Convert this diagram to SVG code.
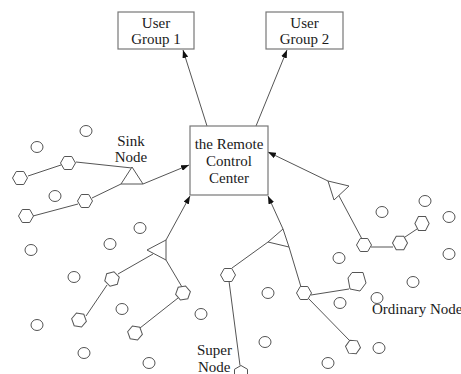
<svg xmlns="http://www.w3.org/2000/svg" xmlns:xlink="http://www.w3.org/1999/xlink" width="461" height="374" viewBox="0 0 461 374">
<style>
.box{fill:#fff;stroke:#777;stroke-width:1.2}
.t{font-family:"Liberation Serif","Times New Roman",serif;font-size:15px;fill:#1a1a1a;text-anchor:middle}
.tl{font-family:"Liberation Serif","Times New Roman",serif;font-size:15px;fill:#1a1a1a}
.ln{stroke:#555;stroke-width:1;fill:none}
.ar{stroke:#555;stroke-width:1;fill:none;marker-end:url(#ah)}
.nd{fill:#fff;stroke:#555;stroke-width:1}
</style>
<defs>
<marker id="ah" viewBox="0 0 8 6" refX="8" refY="3" markerWidth="8" markerHeight="6" orient="auto" markerUnits="userSpaceOnUse"><path d="M0,0 L8,3 L0,6 z" fill="#111"/></marker>
<polygon id="hx" points="-7.5,0 -3.75,-6.5 3.75,-6.5 7.5,0 3.75,6.5 -3.75,6.5"/>
<ellipse id="ci" cx="0" cy="0" rx="6" ry="5.5"/>
</defs>
<rect width="461" height="374" fill="#fff"/>

<g id="connectors">
<line class="ar" x1="207" y1="126" x2="183" y2="50"/>
<line class="ar" x1="256" y1="126" x2="287" y2="50"/>
<line class="ar" x1="143" y1="184" x2="189" y2="165"/>
<line class="ar" x1="166" y1="240" x2="190" y2="196"/>
<line class="ar" x1="283" y1="229" x2="268" y2="196"/>
<line class="ar" x1="328" y1="181" x2="268" y2="152"/>
<line class="ln" x1="28" y1="176" x2="61" y2="165"/>
<line class="ln" x1="76" y1="162" x2="132" y2="168"/>
<line class="ln" x1="33" y1="216" x2="78" y2="204"/>
<line class="ln" x1="92" y1="198" x2="121" y2="184"/>
<line class="ln" x1="118" y1="274" x2="153" y2="254"/>
<line class="ln" x1="107" y1="285" x2="86" y2="316"/>
<line class="ln" x1="166" y1="260" x2="182" y2="287"/>
<line class="ln" x1="178" y1="298" x2="140" y2="328"/>
<line class="ln" x1="268" y1="242" x2="232" y2="268"/>
<line class="ln" x1="289" y1="247" x2="301" y2="287"/>
<line class="ln" x1="229" y1="281" x2="240" y2="365.5"/>
<line class="ln" x1="311" y1="295" x2="349" y2="289"/>
<line class="ln" x1="308" y1="298" x2="350" y2="341"/>
<line class="ln" x1="338" y1="194" x2="362" y2="239"/>
<line class="ln" x1="371" y1="247" x2="393" y2="247"/>
<line class="ln" x1="405" y1="237" x2="417" y2="229"/>
</g>

<g id="user-group-1"><rect class="box" x="118" y="12" width="76" height="37"/><text class="t" x="156" y="28">User</text><text class="t" x="156" y="44">Group 1</text></g>
<g id="user-group-2"><rect class="box" x="266" y="12" width="77" height="37"/><text class="t" x="304.5" y="28">User</text><text class="t" x="304.5" y="44">Group 2</text></g>
<g id="remote-control-center"><rect class="box" x="190" y="126" width="78" height="69"/><text class="t" x="229" y="149">the Remote</text><text class="t" x="229" y="166">Control</text><text class="t" x="229" y="183">Center</text></g>

<g id="sink-node-1"><polygon class="nd" points="132,167 121,184 143,184"/></g>
<g id="sink-node-2"><polygon class="nd" points="147,250 166,240 166,260"/></g>
<g id="sink-node-3"><polygon class="nd" points="283,229 268,242 289,247"/></g>
<g id="sink-node-4"><polygon class="nd" points="328,181 349,186 334,200"/></g>

<g id="super-nodes" class="nd">
<use xlink:href="#hx" x="68" y="163"/>
<use xlink:href="#hx" x="20" y="178"/>
<use xlink:href="#hx" x="85" y="201"/>
<use xlink:href="#hx" x="26" y="216"/>
<use xlink:href="#hx" transform="translate(112,279) rotate(-15)"/>
<use xlink:href="#hx" transform="translate(79,320) rotate(10)"/>
<use xlink:href="#hx" transform="translate(183,293) rotate(-10)"/>
<use xlink:href="#hx" transform="translate(135,333) rotate(10)"/>
<use xlink:href="#hx" x="228" y="275"/>
<use xlink:href="#hx" transform="translate(241,373) rotate(90)"/>
<use xlink:href="#hx" x="304" y="293"/>
<polygon points="352,272.5 363,272.5 366,283 360,291 350,289 348,278"/>
<use xlink:href="#hx" transform="translate(353,347) rotate(5)"/>
<use xlink:href="#hx" x="364" y="245"/>
<use xlink:href="#hx" transform="translate(400,243) scale(1,1.05)"/>
<use xlink:href="#hx" transform="translate(422,223.5) scale(0.95,1.08)"/>
</g>

<g id="ordinary-nodes" class="nd">
<use xlink:href="#ci" x="86" y="131"/>
<use xlink:href="#ci" x="37" y="147"/>
<use xlink:href="#ci" x="55" y="196"/>
<use xlink:href="#ci" x="140" y="228"/>
<use xlink:href="#ci" x="31" y="250"/>
<use xlink:href="#ci" x="110" y="244"/>
<use xlink:href="#ci" x="74" y="277"/>
<use xlink:href="#ci" x="122" y="309"/>
<use xlink:href="#ci" x="201" y="314"/>
<use xlink:href="#ci" x="37" y="325"/>
<use xlink:href="#ci" x="84" y="353"/>
<use xlink:href="#ci" x="149" y="363"/>
<use xlink:href="#ci" x="382" y="212"/>
<use xlink:href="#ci" x="425" y="201"/>
<use xlink:href="#ci" x="449" y="217"/>
<use xlink:href="#ci" x="449" y="254"/>
<use xlink:href="#ci" x="339" y="258"/>
<use xlink:href="#ci" x="413" y="282"/>
<use xlink:href="#ci" x="268" y="293"/>
<use xlink:href="#ci" x="340" y="303"/>
<use xlink:href="#ci" x="377" y="298"/>
<use xlink:href="#ci" x="265" y="342"/>
<use xlink:href="#ci" x="379" y="348"/>
<use xlink:href="#ci" x="328" y="363"/>
</g>

<g id="labels">
<text class="t" x="131" y="146">Sink</text>
<text class="t" x="131" y="162">Node</text>
<text class="tl" x="197" y="355">Super</text>
<text class="tl" x="198" y="372">Node</text>
<text class="tl" x="372" y="314">Ordinary Node</text>
</g>
</svg>
